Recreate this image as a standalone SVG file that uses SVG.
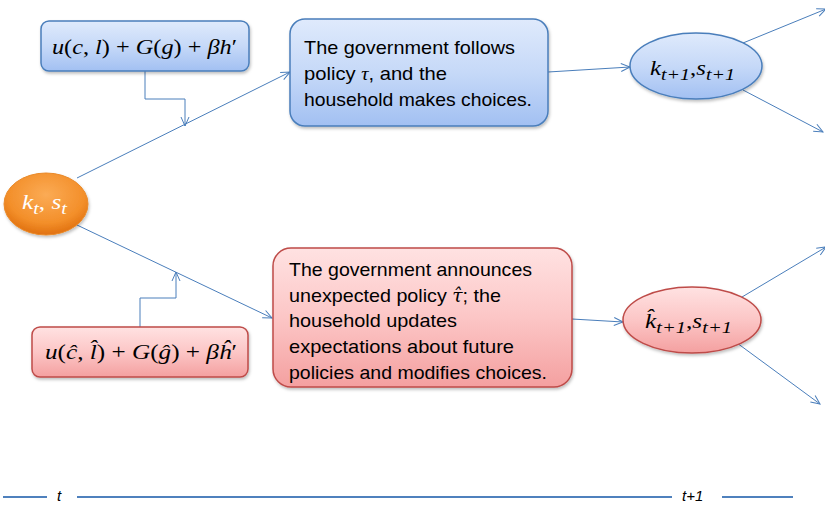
<svg xmlns="http://www.w3.org/2000/svg" width="825" height="505" viewBox="0 0 825 505">
<defs>
<linearGradient id="gBlue" x1="0" y1="0" x2="0" y2="1">
<stop offset="0" stop-color="#dfeafc"/><stop offset="0.5" stop-color="#c6d9f8"/><stop offset="1" stop-color="#a2c0f2"/>
</linearGradient>
<linearGradient id="gRed" x1="0" y1="0" x2="0" y2="1">
<stop offset="0" stop-color="#ffe2e2"/><stop offset="0.5" stop-color="#fcc6c6"/><stop offset="1" stop-color="#f4a0a0"/>
</linearGradient>
<radialGradient id="gOrange" cx="0.5" cy="0.35" r="0.65">
<stop offset="0" stop-color="#fbab55"/><stop offset="0.7" stop-color="#f38f2a"/><stop offset="1" stop-color="#e0700f"/>
</radialGradient>
<filter id="sh" x="-20%" y="-20%" width="140%" height="150%">
<feDropShadow dx="1" dy="2" stdDeviation="1.5" flood-color="#000" flood-opacity="0.25"/>
</filter>
<marker id="arr" markerUnits="userSpaceOnUse" markerWidth="12" markerHeight="12" refX="10" refY="5" orient="auto" viewBox="0 0 12 10">
<path d="M1,1 L10,5 L1,9" fill="none" stroke="#4a7ebb" stroke-width="1"/>
</marker>
</defs>
<style>
.conn{fill:none;stroke:#4a7ebb;stroke-width:1}
.bbox{fill:url(#gBlue);stroke:#4a7ebb;stroke-width:1.5}
.rbox{fill:url(#gRed);stroke:#be4b48;stroke-width:1.5}
.txt{font-family:"Liberation Sans","Open Sans",sans-serif;font-size:19px;fill:#000}
.math{font-family:"Liberation Serif","DejaVu Serif",serif;font-size:21px;font-style:italic;fill:#000}
.up{font-style:normal}
.sub{font-size:17px}
.time{fill:none;stroke:#4f81bd;stroke-width:2}
.tl{font-family:"Liberation Sans",sans-serif;font-size:15px;font-style:italic;fill:#000}
</style>

<g id="connectors">
<polyline class="conn" points="145,71 145,99 185,99 185,126" marker-end="url(#arr)"/>
<polyline class="conn" points="140,327 140,298 176,298 176,272" marker-end="url(#arr)"/>
<line class="conn" x1="77" y1="178" x2="290" y2="72" marker-end="url(#arr)"/>
<line class="conn" x1="77" y1="225" x2="272" y2="318" marker-end="url(#arr)"/>
<line class="conn" x1="548" y1="72" x2="630" y2="67" marker-end="url(#arr)"/>
<line class="conn" x1="572" y1="319" x2="623" y2="322" marker-end="url(#arr)"/>
<line class="conn" x1="743" y1="43" x2="826" y2="9" marker-end="url(#arr)"/>
<line class="conn" x1="743" y1="90" x2="823" y2="132" marker-end="url(#arr)"/>
<line class="conn" x1="742" y1="297" x2="826" y2="247" marker-end="url(#arr)"/>
<line class="conn" x1="737" y1="343" x2="820" y2="404" marker-end="url(#arr)"/>
</g>

<g id="util-top">
<rect class="bbox" x="41" y="21" width="208" height="50" rx="8" filter="url(#sh)"/>
<text class="math" x="52" y="54" textLength="185" lengthAdjust="spacingAndGlyphs">u<tspan class="up">(</tspan>c<tspan class="up">, </tspan>l<tspan class="up">) + </tspan>G<tspan class="up">(</tspan>g<tspan class="up">) + </tspan>βh<tspan class="up">′</tspan></text>
</g>

<g id="box-follow">
<rect class="bbox" x="290" y="19" width="258" height="107" rx="15" filter="url(#sh)"/>
<text class="txt" x="304" y="54" textLength="211" lengthAdjust="spacingAndGlyphs">The government follows</text>
<text class="txt" x="304" y="80" textLength="143" lengthAdjust="spacingAndGlyphs">policy <tspan font-family="Liberation Serif,serif" font-style="italic">τ</tspan>, and the</text>
<text class="txt" x="304" y="106" textLength="228" lengthAdjust="spacingAndGlyphs">household makes choices.</text>
</g>

<g id="state-next">
<ellipse cx="696" cy="66" rx="66" ry="33" class="bbox" filter="url(#sh)"/>
<text class="math" x="650" y="75" font-size="25" textLength="85" lengthAdjust="spacingAndGlyphs">k<tspan class="sub" dy="5">t+1</tspan><tspan class="up" dy="-5">,</tspan>s<tspan class="sub" dy="5">t+1</tspan></text>
</g>

<g id="state-now">
<ellipse cx="46" cy="204" rx="42" ry="31" fill="url(#gOrange)" stroke="#e98a2a" stroke-width="1" filter="url(#sh)"/>
<text class="math" x="22" y="209" style="fill:#fff" font-size="25" textLength="45" lengthAdjust="spacingAndGlyphs">k<tspan class="sub" dy="5">t</tspan><tspan class="up" dy="-5">, </tspan>s<tspan class="sub" dy="5">t</tspan></text>
</g>

<g id="util-bottom">
<rect class="rbox" x="32" y="327" width="216" height="50" rx="8" filter="url(#sh)"/>
<text class="math" x="45" y="359" textLength="192" lengthAdjust="spacingAndGlyphs">u<tspan class="up">(</tspan>ĉ<tspan class="up">, </tspan>l̂<tspan class="up">) + </tspan>G<tspan class="up">(</tspan>ĝ<tspan class="up">) + </tspan>βĥ<tspan class="up">′</tspan></text>
</g>

<g id="box-announce">
<rect class="rbox" x="273" y="248" width="299" height="139" rx="18" filter="url(#sh)"/>
<text class="txt" x="289" y="276" textLength="243" lengthAdjust="spacingAndGlyphs">The government announces</text>
<text class="txt" x="289" y="302" textLength="212" lengthAdjust="spacingAndGlyphs">unexpected policy <tspan font-family="DejaVu Serif,serif" font-style="italic" font-size="18">τ̂</tspan>; the</text>
<text class="txt" x="289" y="327" textLength="168" lengthAdjust="spacingAndGlyphs">household updates</text>
<text class="txt" x="289" y="353" textLength="225" lengthAdjust="spacingAndGlyphs">expectations about future</text>
<text class="txt" x="289" y="379" textLength="258" lengthAdjust="spacingAndGlyphs">policies and modifies choices.</text>
</g>

<g id="state-next-hat">
<ellipse cx="692" cy="320" rx="69" ry="33" class="rbox" filter="url(#sh)"/>
<text class="math" x="645" y="328" font-size="25" textLength="87" lengthAdjust="spacingAndGlyphs">k̂<tspan class="sub" dy="5">t+1</tspan><tspan class="up" dy="-5">,</tspan>s<tspan class="sub" dy="5">t+1</tspan></text>
</g>

<g id="timeline">
<line class="time" x1="3" y1="497" x2="47" y2="497"/>
<text class="tl" x="57" y="501">t</text>
<line class="time" x1="77" y1="497" x2="672" y2="497"/>
<text class="tl" x="682" y="501">t+1</text>
<line class="time" x1="722" y1="497" x2="793" y2="497"/>
</g>
</svg>
